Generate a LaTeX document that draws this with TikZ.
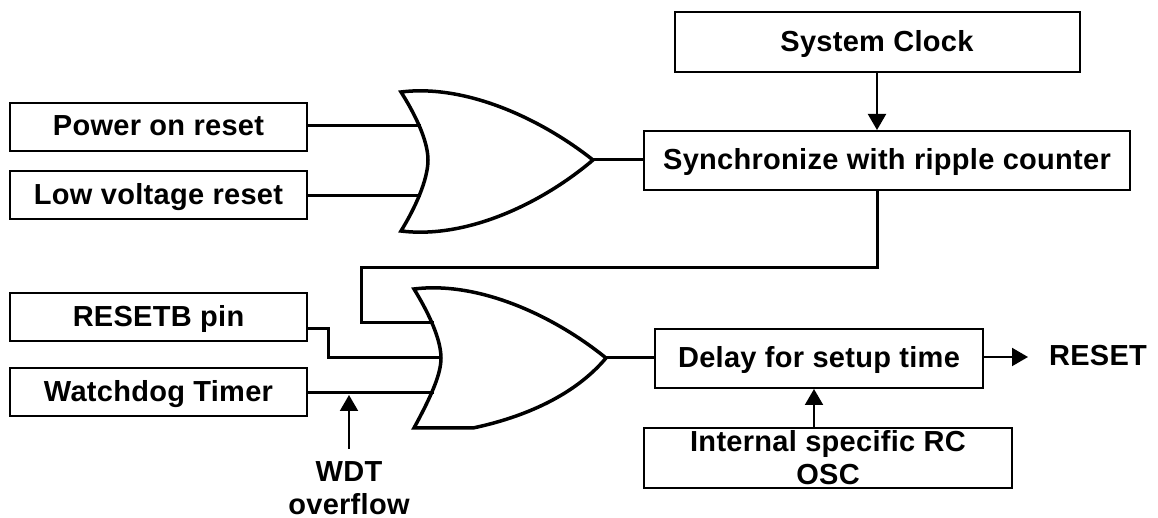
\documentclass[tikz,border=0pt]{standalone}
\usepackage{fontspec}
\setmainfont[LetterSpace=1]{Liberation Sans}
\usetikzlibrary{arrows.meta}
\newlength{\du}
\setlength{\du}{0.5pt}
\tikzset{
  blockbox/.style={draw=black,line width=2\du,inner sep=0pt,align=center,font=\fontsize{14.5}{16.5}\selectfont\bfseries},
  onelinebox/.style={blockbox,text depth=1.3pt},
  labeltext/.style={inner sep=0pt,align=center,font=\fontsize{14.5}{16.5}\selectfont\bfseries},
  wire/.style={draw=black,line width=3\du,line join=miter},
  thinarrow/.style={draw=black,line width=2\du,-{Triangle[length=8pt,width=9pt]}},
  gateline/.style={draw=black,line width=3.5\du,line join=miter}
}
\begin{document}
\begin{tikzpicture}
\pgftransformxscale{1.000000}
\pgftransformyscale{-1.000000}
\useasboundingbox (0\du,0\du) rectangle (1158\du,518\du);
% boxes
\node[onelinebox,minimum width=405\du,minimum height=60\du] (sysclock) at (877\du,42\du){System Clock};
\node[onelinebox,minimum width=486\du,minimum height=59\du] (ripple) at (887\du,160.5\du){Synchronize with ripple counter};
\node[onelinebox,minimum width=297\du,minimum height=48\du] (poweron) at (158.5\du,127\du){Power on reset};
\node[onelinebox,minimum width=297\du,minimum height=48\du] (lowvolt) at (158.5\du,195\du){Low voltage reset};
\node[onelinebox,minimum width=297\du,minimum height=48\du] (resetb) at (158.5\du,317\du){RESETB pin};
\node[onelinebox,minimum width=297\du,minimum height=48\du] (watchdog) at (158.5\du,392\du){Watchdog Timer};
\node[onelinebox,minimum width=328\du,minimum height=59\du] (delay) at (819\du,358.5\du){Delay for setup time};
\node[blockbox,minimum width=368\du,minimum height=60\du] (rcosc) at (828\du,458\du){Internal specific RC\\OSC};
% free labels
\node[labeltext] (resetout) at (1098\du,356\du){RESET};
\node[labeltext] (wdtover) at (349\du,488\du){WDT\\overflow};
% upper gate
\coordinate (uppertop) at (401\du,92\du);
\coordinate (upperbot) at (401\du,231\du);
\coordinate (uppertip) at (593\du,160\du);
\coordinate (upperin) at (421\du,126\du);
\coordinate (upperinb) at (421\du,196\du);
\draw[gateline] (uppertop) .. controls (465\du,84\du) and (540\du,118\du) .. (uppertip)
  .. controls (540\du,205\du) and (465\du,239\du) .. (upperbot)
  .. controls (420\du,200\du) and (428\du,175\du) .. (428\du,160\du)
  .. controls (428\du,145\du) and (420\du,122\du) .. (uppertop) -- cycle;
% lower gate
\coordinate (lowertop) at (414\du,289\du);
\coordinate (lowerbot) at (414\du,428\du);
\coordinate (lowertip) at (606\du,358\du);
\coordinate (lowerina) at (434\du,323\du);
\coordinate (lowerinb) at (441\du,358\du);
\coordinate (lowerinc) at (434\du,393\du);
\draw[gateline] (lowertop) .. controls (478\du,281\du) and (553\du,315\du) .. (lowertip)
  .. controls (575\du,395\du) and (525\du,417\du) .. (473\du,428\du) -- (lowerbot)
  .. controls (433\du,393\du) and (441\du,373\du) .. (441\du,358\du)
  .. controls (441\du,343\du) and (433\du,320\du) .. (lowertop) -- cycle;
% wire ends
\coordinate (ripplebot) at (877\du,190\du);
\coordinate (feedcorna) at (877\du,268\du);
\coordinate (feedcornb) at (361\du,268\du);
\coordinate (feedcornc) at (361\du,323\du);
\coordinate (resetbout) at (307\du,329\du);
\coordinate (resetbcorna) at (328\du,329\du);
\coordinate (resetbcornb) at (328\du,358\du);
\coordinate (rcout) at (814\du,428\du);
\coordinate (delayin) at (814\du,389\du);
\coordinate (resetend) at (1028\du,357\du);
\coordinate (wdtstart) at (349\du,449\du);
\coordinate (wdtend) at (349\du,395\du);
% wires
\draw[wire] (poweron.east |- upperin) -- (upperin);
\draw[wire] (lowvolt.east |- upperinb) -- (upperinb);
\draw[wire] (uppertip) -- (uppertip -| ripple.west);
\draw[wire] (ripplebot) -- (feedcorna) -- (feedcornb) -- (feedcornc) -- (lowerina);
\draw[wire] (resetbout) -- (resetbcorna) -- (resetbcornb) -- (lowerinb);
\draw[wire] (watchdog.east |- lowerinc) -- (lowerinc);
\draw[wire] (lowertip) -- (lowertip -| delay.west);
% arrows
\draw[thinarrow] (sysclock.south) -- (sysclock.south |- ripple.north);
\draw[thinarrow] (rcout) -- (delayin);
\draw[thinarrow] (delay.east |- resetend) -- (resetend);
\draw[thinarrow] (wdtstart) -- (wdtend);
\end{tikzpicture}
\end{document}
